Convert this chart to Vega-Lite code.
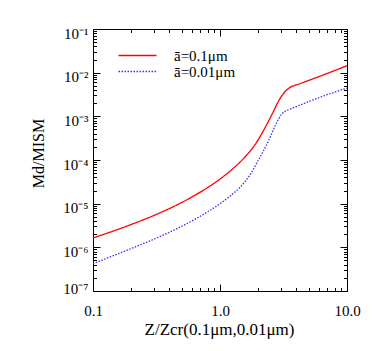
{
  "$schema": "https://vega.github.io/schema/vega-lite/v6.json",
  "width": 254,
  "height": 262,
  "autosize": {"type": "none"},
  "padding": {"left": 93, "top": 29, "right": 27, "bottom": 60},
  "background": "white",
  "config": {
    "view": {"stroke": null},
    "axis": {"grid": false, "labelFont": "Liberation Serif, serif", "titleFont": "Liberation Serif, serif", "labelFontSize": 15, "titleFontSize": 16, "labelColor": "#000", "titleColor": "#000", "titleFontWeight": "normal", "domainColor": "#000", "tickColor": "#000", "labelOverlap": false, "labelFlush": false},
    "legend": {"labelFont": "Liberation Serif, serif", "labelFontSize": 15, "labelColor": "#000"}
  },
  "data": {"values": [
    {"z": 0.1, "m": 1.637e-6, "s": "ā=0.1μm"},
    {"z": 0.182, "m": 3.01e-6, "s": "ā=0.1μm"},
    {"z": 0.334, "m": 6.1e-6, "s": "ā=0.1μm"},
    {"z": 0.45, "m": 9.1e-6, "s": "ā=0.1μm"},
    {"z": 0.612, "m": 1.466e-5, "s": "ā=0.1μm"},
    {"z": 0.8, "m": 2.34e-5, "s": "ā=0.1μm"},
    {"z": 1.0, "m": 3.66e-5, "s": "ā=0.1μm"},
    {"z": 1.2, "m": 5.56e-5, "s": "ā=0.1μm"},
    {"z": 1.52, "m": 1.054e-4, "s": "ā=0.1μm"},
    {"z": 1.89, "m": 2.254e-4, "s": "ā=0.1μm"},
    {"z": 2.26, "m": 5.43e-4, "s": "ā=0.1μm"},
    {"z": 2.56, "m": 1.091e-3, "s": "ā=0.1μm"},
    {"z": 2.88, "m": 2.188e-3, "s": "ā=0.1μm"},
    {"z": 3.26, "m": 3.715e-3, "s": "ā=0.1μm"},
    {"z": 3.68, "m": 4.84e-3, "s": "ā=0.1μm"},
    {"z": 4.04, "m": 5.31e-3, "s": "ā=0.1μm"},
    {"z": 5.62, "m": 7.55e-3, "s": "ā=0.1μm"},
    {"z": 10, "m": 1.445e-2, "s": "ā=0.1μm"},
    {"z": 0.1, "m": 4.23e-7, "s": "ā=0.01μm"},
    {"z": 0.182, "m": 8.41e-7, "s": "ā=0.01μm"},
    {"z": 0.334, "m": 1.746e-6, "s": "ā=0.01μm"},
    {"z": 0.45, "m": 2.606e-6, "s": "ā=0.01μm"},
    {"z": 0.612, "m": 4.14e-6, "s": "ā=0.01μm"},
    {"z": 0.8, "m": 6.52e-6, "s": "ā=0.01μm"},
    {"z": 1.0, "m": 9.95e-6, "s": "ā=0.01μm"},
    {"z": 1.2, "m": 1.486e-5, "s": "ā=0.01μm"},
    {"z": 1.44, "m": 2.382e-5, "s": "ā=0.01μm"},
    {"z": 1.73, "m": 4.62e-5, "s": "ā=0.01μm"},
    {"z": 2.0, "m": 9.84e-5, "s": "ā=0.01μm"},
    {"z": 2.4, "m": 2.68e-4, "s": "ā=0.01μm"},
    {"z": 2.72, "m": 6.1e-4, "s": "ā=0.01μm"},
    {"z": 3.07, "m": 1.135e-3, "s": "ā=0.01μm"},
    {"z": 3.68, "m": 1.514e-3, "s": "ā=0.01μm"},
    {"z": 4.42, "m": 1.884e-3, "s": "ā=0.01μm"},
    {"z": 5.62, "m": 2.489e-3, "s": "ā=0.01μm"},
    {"z": 10, "m": 4.43e-3, "s": "ā=0.01μm"}
  ]},
  "resolve": {"axis": {"x": "independent", "y": "independent"}},
  "layer": [
    {
      "mark": {"type": "line", "interpolate": "monotone", "strokeWidth": 1.3},
      "encoding": {
        "x": {"field": "z", "type": "quantitative",
          "scale": {"type": "log", "domain": [0.1, 10], "nice": false},
          "axis": {"orient": "bottom", "title": "Z/Zcr(0.1μm,0.01μm)",
            "values": [0.1,0.2,0.3,0.4,0.5,0.6,0.7,0.8,0.9,1,2,3,4,5,6,7,8,9,10],
            "labelExpr": "datum.value == 0.1 ? '0.1' : datum.value == 1 ? '1.0' : datum.value == 10 ? '10.0' : ''",
            "tickSize": {"condition": {"test": "indexof([0.1,1,10], datum.value) >= 0", "value": -7}, "value": -3.5},
            "labelPadding": 19, "titleX": 126, "titleY": 30, "titleFontSize": 17}},
        "y": {"field": "m", "type": "quantitative",
          "scale": {"type": "log", "domain": [1e-7, 0.1], "nice": false},
          "axis": {"orient": "left", "title": "Md/MISM",
            "values": [1e-7,2e-7,3e-7,4e-7,5e-7,6e-7,7e-7,8e-7,9e-7,1e-6,2e-6,3e-6,4e-6,5e-6,6e-6,7e-6,8e-6,9e-6,1e-5,2e-5,3e-5,4e-5,5e-5,6e-5,7e-5,8e-5,9e-5,1e-4,2e-4,3e-4,4e-4,5e-4,6e-4,7e-4,8e-4,9e-4,1e-3,2e-3,3e-3,4e-3,5e-3,6e-3,7e-3,8e-3,9e-3,1e-2,2e-2,3e-2,4e-2,5e-2,6e-2,7e-2,8e-2,9e-2,0.1],
            "labelExpr": "indexof([1e-7,1e-6,1e-5,1e-4,1e-3,1e-2,0.1], datum.value) >= 0 ? ['10⁻⁷','10⁻⁶','10⁻⁵','10⁻⁴','10⁻³','10⁻²','10⁻¹'][indexof([1e-7,1e-6,1e-5,1e-4,1e-3,1e-2,0.1], datum.value)] : ''",
            "tickSize": {"condition": {"test": "indexof([1e-7,1e-6,1e-5,1e-4,1e-3,1e-2,0.1], datum.value) >= 0", "value": -7}, "value": -3.5},
            "labelPadding": 12,
            "labelOffset": {"condition": {"test": "datum.value == 1e-7", "value": -3}, "value": 4},
            "titleX": -47, "titleY": 124}},
        "color": {"field": "s", "type": "nominal",
          "scale": {"domain": ["ā=0.1μm", "ā=0.01μm"], "range": ["#ff0000", "#3030ff"]},
          "legend": {"title": null, "orient": "none", "legendX": 37, "legendY": 19, "symbolType": "M-4,0H4", "symbolSize": 90, "symbolStrokeWidth": 1.5, "labelOffset": 29, "rowPadding": -4}},
        "strokeDash": {"field": "s", "type": "nominal",
          "scale": {"domain": ["ā=0.1μm", "ā=0.01μm"], "range": [[1, 0], [1.5, 1.5]]},
          "legend": {"title": null, "orient": "none", "legendX": 37, "legendY": 19, "symbolType": "M-4,0H4", "symbolSize": 90, "symbolStrokeWidth": 1.5, "labelOffset": 29, "rowPadding": -4}}
      }
    },
    {
      "mark": {"type": "line", "opacity": 0},
      "encoding": {
        "detail": {"field": "s"},
        "x": {"field": "z", "type": "quantitative",
          "axis": {"orient": "top", "title": null, "labels": false,
            "values": [0.1,0.2,0.3,0.4,0.5,0.6,0.7,0.8,0.9,1,2,3,4,5,6,7,8,9,10],
            "tickSize": {"condition": {"test": "indexof([0.1,1,10], datum.value) >= 0", "value": -7}, "value": -3.5}}},
        "y": {"field": "m", "type": "quantitative",
          "axis": {"orient": "right", "title": null, "labels": false,
            "values": [1e-7,2e-7,3e-7,4e-7,5e-7,6e-7,7e-7,8e-7,9e-7,1e-6,2e-6,3e-6,4e-6,5e-6,6e-6,7e-6,8e-6,9e-6,1e-5,2e-5,3e-5,4e-5,5e-5,6e-5,7e-5,8e-5,9e-5,1e-4,2e-4,3e-4,4e-4,5e-4,6e-4,7e-4,8e-4,9e-4,1e-3,2e-3,3e-3,4e-3,5e-3,6e-3,7e-3,8e-3,9e-3,1e-2,2e-2,3e-2,4e-2,5e-2,6e-2,7e-2,8e-2,9e-2,0.1],
            "tickSize": {"condition": {"test": "indexof([1e-7,1e-6,1e-5,1e-4,1e-3,1e-2,0.1], datum.value) >= 0", "value": -7}, "value": -3.5}}}
      }
    }
  ]
}
